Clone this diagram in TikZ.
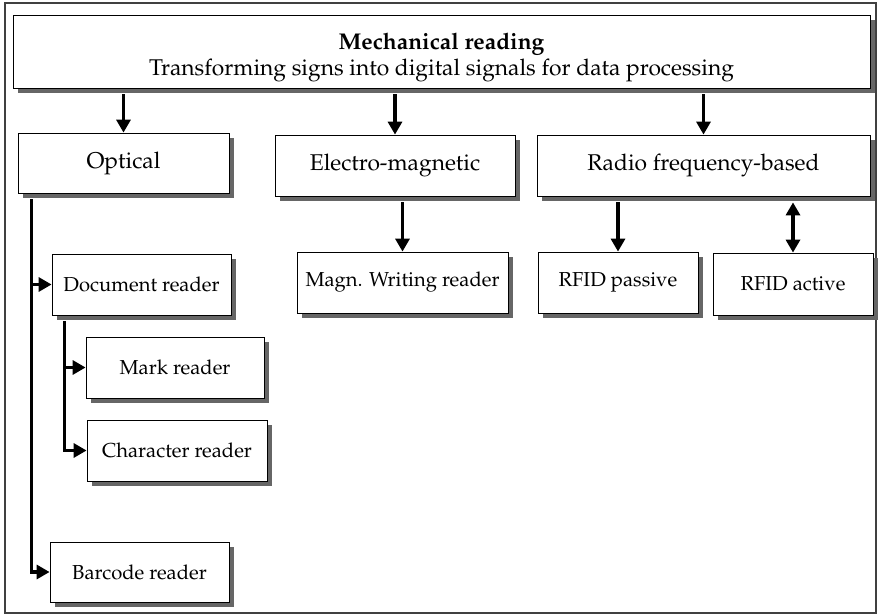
\documentclass[tikz,border=0pt]{standalone}
\usepackage[T1]{fontenc}
\usepackage{mathpazo}
\usepackage{tikz}
\usetikzlibrary{arrows.meta,positioning,calc,shadows}

\begin{document}
\begin{tikzpicture}[x=0.5pt,y=-0.5pt,
  box/.style={draw,thin,fill=white,inner sep=0pt,minimum height=30.5pt,align=center,
    font=\fontsize{11.4}{13}\selectfont,
    drop shadow={shadow xshift=2.5pt,shadow yshift=-2.5pt,fill=black!60,opacity=1}},
  subbox/.style={box,font=\fontsize{10.1}{12}\selectfont},
  arr/.style={line width=1.6pt,-{Triangle[length=6.5pt,width=7pt]}},
  dblarr/.style={line width=1.6pt,{Triangle[length=6.5pt,width=7pt]}-{Triangle[length=6.5pt,width=7pt]}},
  rail/.style={line width=1.6pt}]
\useasboundingbox (0,0) rectangle (878,615);
\draw[black!75,line width=0.7pt] (5,3) rectangle (876,613);
\node[box,minimum width=428.5pt,minimum height=36.5pt] (top) at (441.5,51.5)
  {\rule{0pt}{14pt}\textbf{Mechanical reading}\\Transforming signs into digital signals for data processing};
\node[box,minimum width=105.5pt,minimum height=30pt] (optical) at (123.5,163) {Optical};
\node[box,minimum width=120pt] (electro) at (395,165.5) {Electro-magnetic};
\node[box,minimum width=166.5pt] (radio) at (703.5,165.5) {Radio frequency-based};
\node[subbox,minimum width=89.5pt] (docreader) at (141.5,284.5) {Document reader};
\node[subbox,minimum width=89pt] (mark) at (175,367.5) {Mark reader};
\node[subbox,minimum width=90pt] (char) at (177,450.5) {Character reader};
\node[subbox,minimum width=89.5pt,minimum height=30pt] (barcode) at (139.5,572) {Barcode reader};
\node[subbox,minimum width=105.5pt] (magn) at (402.5,282.5) {Magn. Writing reader};
\node[subbox,minimum width=80pt] (rfidp) at (618,282.5) {RFID passive};
\node[subbox,minimum width=80pt,minimum height=31pt] (rfida) at (793,284) {RFID active};
% top level
\draw[arr] ([yshift=-3pt]top.south -| optical.north) -- (optical.north);
\draw[arr] ([yshift=-3pt]top.south -| electro.north) -- (electro.north);
\draw[arr] ([yshift=-3pt]top.south -| radio.north) -- (radio.north);
% second level
\draw[arr] ([yshift=-3pt]electro.south -| magn.north) -- (magn.north);
\draw[arr] ([yshift=-3pt]radio.south -| rfidp.north) -- (rfidp.north);
\draw[dblarr] ([yshift=-3pt]radio.south -| rfida.north) -- (rfida.north);
% optical tree
\draw[rail] ([xshift=7pt,yshift=-3pt]optical.south west) -- ([xshift=7pt]optical.south west |- barcode.west);
\draw[arr] ([xshift=6.3pt]optical.south west |- docreader.west) -- (docreader.west);
\draw[arr] ([xshift=6.3pt]optical.south west |- barcode.west) -- (barcode.west);
\draw[rail] ([xshift=6.5pt,yshift=-3pt]docreader.south west) -- ([xshift=6.5pt]docreader.south west |- char.west);
\draw[arr] ([xshift=5.8pt]docreader.south west |- mark.west) -- (mark.west);
\draw[arr] ([xshift=5.8pt]docreader.south west |- char.west) -- (char.west);
\end{tikzpicture}
\end{document}
